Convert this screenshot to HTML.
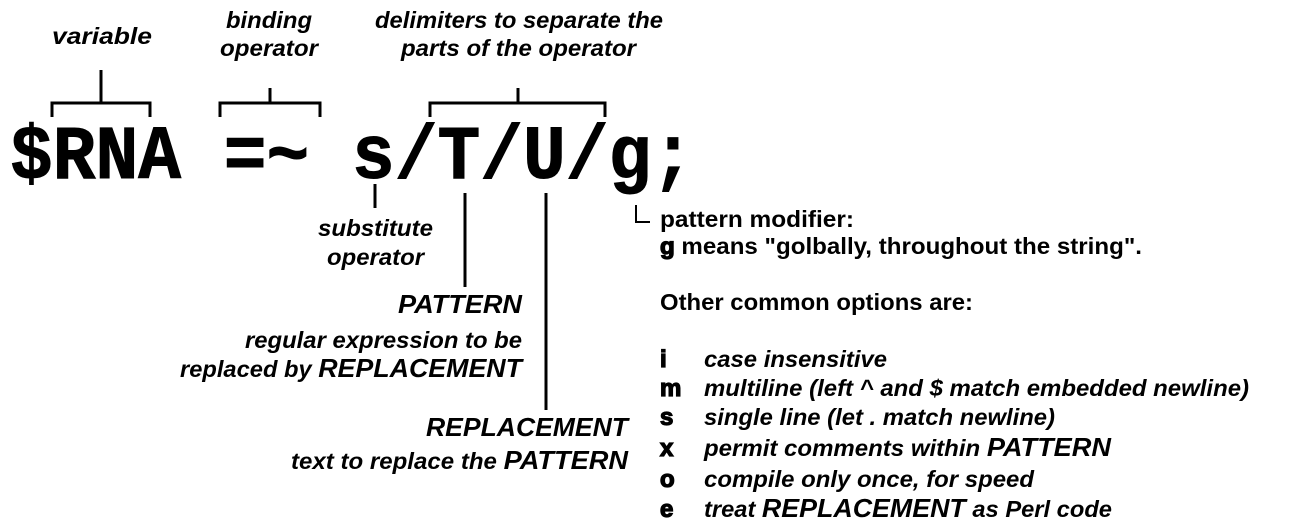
<!DOCTYPE html>
<html><head><meta charset="utf-8"><style>
html,body{margin:0;padding:0;background:#fff;}
svg{display:block;}
text{font-family:"Liberation Sans",Arial,sans-serif;font-weight:bold;fill:#000;}
.i{font-style:italic;font-size:23px;}
.n{font-size:23px;}
.L{font-size:24px;font-weight:900;stroke:#000;stroke-width:1.3px;}
.code{font-family:"Liberation Mono","Courier New",monospace;font-size:76px;font-weight:bold;stroke:#000;stroke-width:1px;}
</style></head><body>
<svg width="1307" height="528" viewBox="0 0 1307 528" xmlns="http://www.w3.org/2000/svg">
<g stroke="#000" stroke-width="3" fill="none">
<polyline points="52,117 52,103 150,103 150,117"/><line x1="101" y1="70" x2="101" y2="103"/>
<polyline points="220,117 220,103 320,103 320,117"/><line x1="270" y1="88" x2="270" y2="103"/>
<polyline points="430,117 430,103 605,103 605,117"/><line x1="518" y1="88" x2="518" y2="103"/>
<line x1="375" y1="184" x2="375" y2="208"/>
<line x1="465" y1="193" x2="465" y2="287"/>
<line x1="546" y1="193" x2="546" y2="410"/>
<polyline stroke-width="2" points="636,205 636,222 650,222"/>
</g>
<text class="code" x="10" y="178" textLength="684" lengthAdjust="spacingAndGlyphs" xml:space="preserve">$RNA =~ s/T/U/g;</text>

<text class="i" x="52" y="44" textLength="100" lengthAdjust="spacingAndGlyphs">variable</text>
<text class="i" x="226" y="28" textLength="86" lengthAdjust="spacingAndGlyphs">binding</text>
<text class="i" x="220" y="56" textLength="98" lengthAdjust="spacingAndGlyphs">operator</text>
<text class="i" x="375" y="28" textLength="288" lengthAdjust="spacingAndGlyphs">delimiters to separate the</text>
<text class="i" x="401" y="56" textLength="235" lengthAdjust="spacingAndGlyphs">parts of the operator</text>
<text class="i" x="318" y="236" textLength="115" lengthAdjust="spacingAndGlyphs">substitute</text>
<text class="i" x="327" y="265" textLength="97" lengthAdjust="spacingAndGlyphs">operator</text>

<text class="i" x="398" y="313" style="font-size:26px" textLength="124" lengthAdjust="spacingAndGlyphs">PATTERN</text>
<text class="i" x="245" y="348" textLength="277" lengthAdjust="spacingAndGlyphs">regular expression to be</text>
<text class="i" x="180" y="377" textLength="342" lengthAdjust="spacingAndGlyphs">replaced by <tspan style="font-size:26px">REPLACEMENT</tspan></text>
<text class="i" x="426" y="436" style="font-size:26px" textLength="202" lengthAdjust="spacingAndGlyphs">REPLACEMENT</text>
<text class="i" x="291" y="469" textLength="337" lengthAdjust="spacingAndGlyphs">text to replace the <tspan style="font-size:26px">PATTERN</tspan></text>

<text class="n" x="660" y="227" textLength="194" lengthAdjust="spacingAndGlyphs">pattern modifier:</text>
<text class="n" x="660" y="254" textLength="482" lengthAdjust="spacingAndGlyphs"><tspan style="stroke:#000;stroke-width:1.3px">g</tspan> means "golbally, throughout the string".</text>
<text class="n" x="660" y="310" textLength="313" lengthAdjust="spacingAndGlyphs">Other common options are:</text>

<text x="660" y="367" class="L">i</text>
<text x="660" y="396" class="L">m</text>
<text x="660" y="425" class="L">s</text>
<text x="660" y="456" class="L">x</text>
<text x="660" y="487" class="L">o</text>
<text x="660" y="517" class="L">e</text>

<text class="i" x="704" y="367" textLength="183" lengthAdjust="spacingAndGlyphs">case insensitive</text>
<text class="i" x="704" y="396" textLength="545" lengthAdjust="spacingAndGlyphs">multiline (left ^ and $ match embedded newline)</text>
<text class="i" x="704" y="425" textLength="351" lengthAdjust="spacingAndGlyphs">single line (let . match newline)</text>
<text class="i" x="704" y="456" textLength="407" lengthAdjust="spacingAndGlyphs">permit comments within <tspan style="font-size:26px">PATTERN</tspan></text>
<text class="i" x="704" y="487" textLength="330" lengthAdjust="spacingAndGlyphs">compile only once, for speed</text>
<text class="i" x="704" y="517" textLength="408" lengthAdjust="spacingAndGlyphs">treat <tspan style="font-size:26px">REPLACEMENT</tspan> as Perl code</text>
</svg>
</body></html>
